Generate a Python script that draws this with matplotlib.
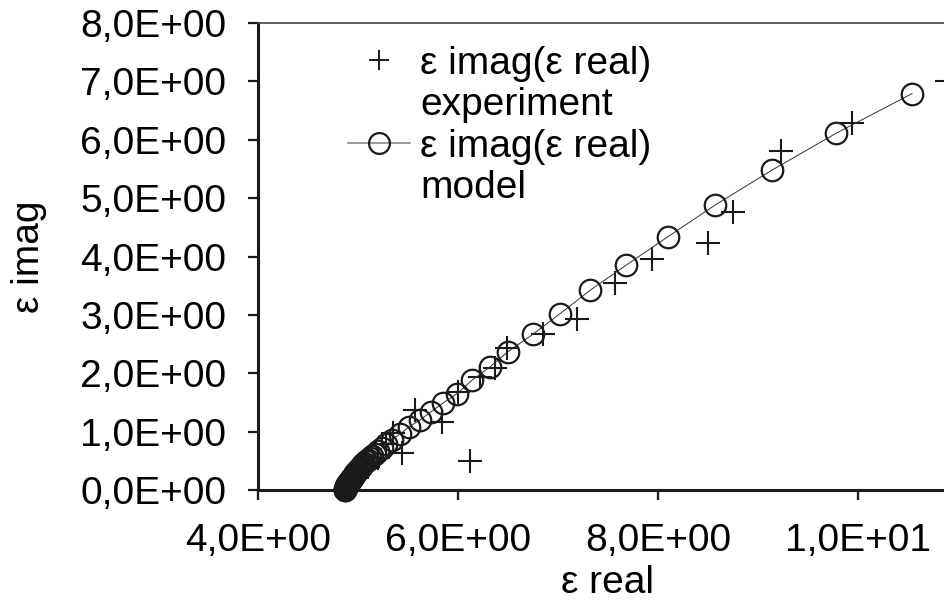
"""
Plot of eps imag versus eps real, experiment and model.
"""

import matplotlib
matplotlib.use('Agg')
import matplotlib.pyplot as plt
from matplotlib.lines import Line2D
from matplotlib.ticker import FuncFormatter

font = {'family': ['Liberation Sans', 'DejaVu Sans'], 'weight': 'normal', 'size': 28}
matplotlib.rc('font', **font)

# experiment points (eps real, eps imag)
exp_real = [10.89, 9.94, 9.23, 8.75, 8.50, 7.94, 7.57, 7.19, 6.85, 6.49,
            6.37, 6.22, 6.00, 5.84, 5.57, 5.35, 5.44, 6.12, 5.28, 5.20,
            5.10, 5.00, 4.92]
exp_imag = [7.00, 6.28, 5.81, 4.77, 4.23, 3.96, 3.55, 2.93, 2.68, 2.43,
            2.09, 1.94, 1.68, 1.17, 1.37, 0.98, 0.63, 0.50, 0.78, 0.55,
            0.40, 0.25, 0.10]

# model points (eps real, eps imag), very dense near the static value
mod_real = [10.54, 9.78, 9.14, 8.57, 8.10, 7.68, 7.32, 7.02, 6.75, 6.50,
            6.32, 6.14, 5.99, 5.85, 5.73, 5.62, 5.51, 5.42, 5.34, 5.28,
            5.24, 5.20, 5.17, 5.14, 5.12, 5.10, 5.08, 5.065, 5.05, 5.04,
            5.03, 5.02, 5.01, 5.00, 4.99, 4.98, 4.975, 4.97, 4.96, 4.955,
            4.95, 4.945, 4.94, 4.935, 4.93, 4.925, 4.92, 4.915, 4.91, 4.905,
            4.90, 4.897, 4.894, 4.891, 4.888, 4.885, 4.882, 4.879, 4.877, 4.875,
            4.873, 4.871, 4.87]
mod_imag = [6.79, 6.11, 5.48, 4.88, 4.34, 3.85, 3.42, 3.02, 2.67, 2.37,
            2.11, 1.88, 1.65, 1.49, 1.34, 1.20, 1.08, 0.96, 0.86, 0.78,
            0.72, 0.66, 0.62, 0.58, 0.55, 0.52, 0.49, 0.465, 0.44, 0.42,
            0.40, 0.38, 0.36, 0.34, 0.32, 0.30, 0.285, 0.27, 0.255, 0.24,
            0.225, 0.21, 0.20, 0.19, 0.175, 0.165, 0.155, 0.145, 0.135, 0.125,
            0.115, 0.105, 0.095, 0.085, 0.075, 0.065, 0.055, 0.045, 0.035, 0.025,
            0.016, 0.008, 0.00]

x_ticks = [4, 6, 8, 10]
y_ticks = [0, 1, 2, 3, 4, 5, 6, 7, 8]


def sci_comma(v, pos=None):
    # 4,0E+00 style labels
    return ('%.1E' % v).replace('.', ',')


fig = plt.figure(figsize=(9.45, 6.0), dpi=100, facecolor='white')
# right part of the frame runs off the picture, as in the original
ax = fig.add_axes([258 / 945., 110 / 600., 700 / 945., 467 / 600.])

ax.plot(exp_real, exp_imag, linestyle='none', marker='+', color='#1a1a1a',
        markersize=17, markeredgewidth=1.5, clip_on=False)
ax.plot(mod_real, mod_imag, linestyle='-', linewidth=0.7, color='#333333',
        marker='o', markersize=15.5, markerfacecolor='none',
        markeredgecolor='#1a1a1a', markeredgewidth=1.6, clip_on=False)

ax.set_xlim(4, 11)
ax.set_ylim(0, 8)
ax.set_xticks(x_ticks)
ax.set_yticks(y_ticks)
ax.xaxis.set_major_formatter(FuncFormatter(sci_comma))
ax.yaxis.set_major_formatter(FuncFormatter(sci_comma))
ax.tick_params(direction='out', length=7, width=1.6, color='#1a1a1a')
ax.tick_params(axis='y', pad=16)
ax.tick_params(axis='x', pad=17)

ax.spines['left'].set_linewidth(2.2)
ax.spines['bottom'].set_linewidth(2.2)
ax.spines['left'].set_color('#1a1a1a')
ax.spines['bottom'].set_color('#1a1a1a')
ax.spines['top'].set_linewidth(1.2)
ax.spines['top'].set_color('#444444')
ax.spines['right'].set_visible(False)

ax.set_xlabel('ε real', labelpad=4)
ax.set_ylabel('ε imag', labelpad=24)

# legend: four rows so that markers sit on the first line of each label
handles = [
    Line2D([], [], linestyle='none', marker='+', color='#1a1a1a',
           markersize=15, markeredgewidth=1.4),
    Line2D([], [], linestyle='none'),
    Line2D([], [], linestyle='-', linewidth=1.2, color='#888888', marker='o',
           markersize=15, markerfacecolor='none', markeredgecolor='#1a1a1a',
           markeredgewidth=1.6),
    Line2D([], [], linestyle='none'),
]
labels = ['ε imag(ε real)', 'experiment', 'ε imag(ε real)', 'model']
fig.legend(handles, labels, loc='upper left',
           bbox_to_anchor=(348 / 945., 1 - 46 / 600.), frameon=False,
           borderpad=0, borderaxespad=0, handlelength=1.6,
           handletextpad=0.25, labelspacing=0.14)

fig.savefig('out.png', dpi=100, facecolor='white')
plt.close()
